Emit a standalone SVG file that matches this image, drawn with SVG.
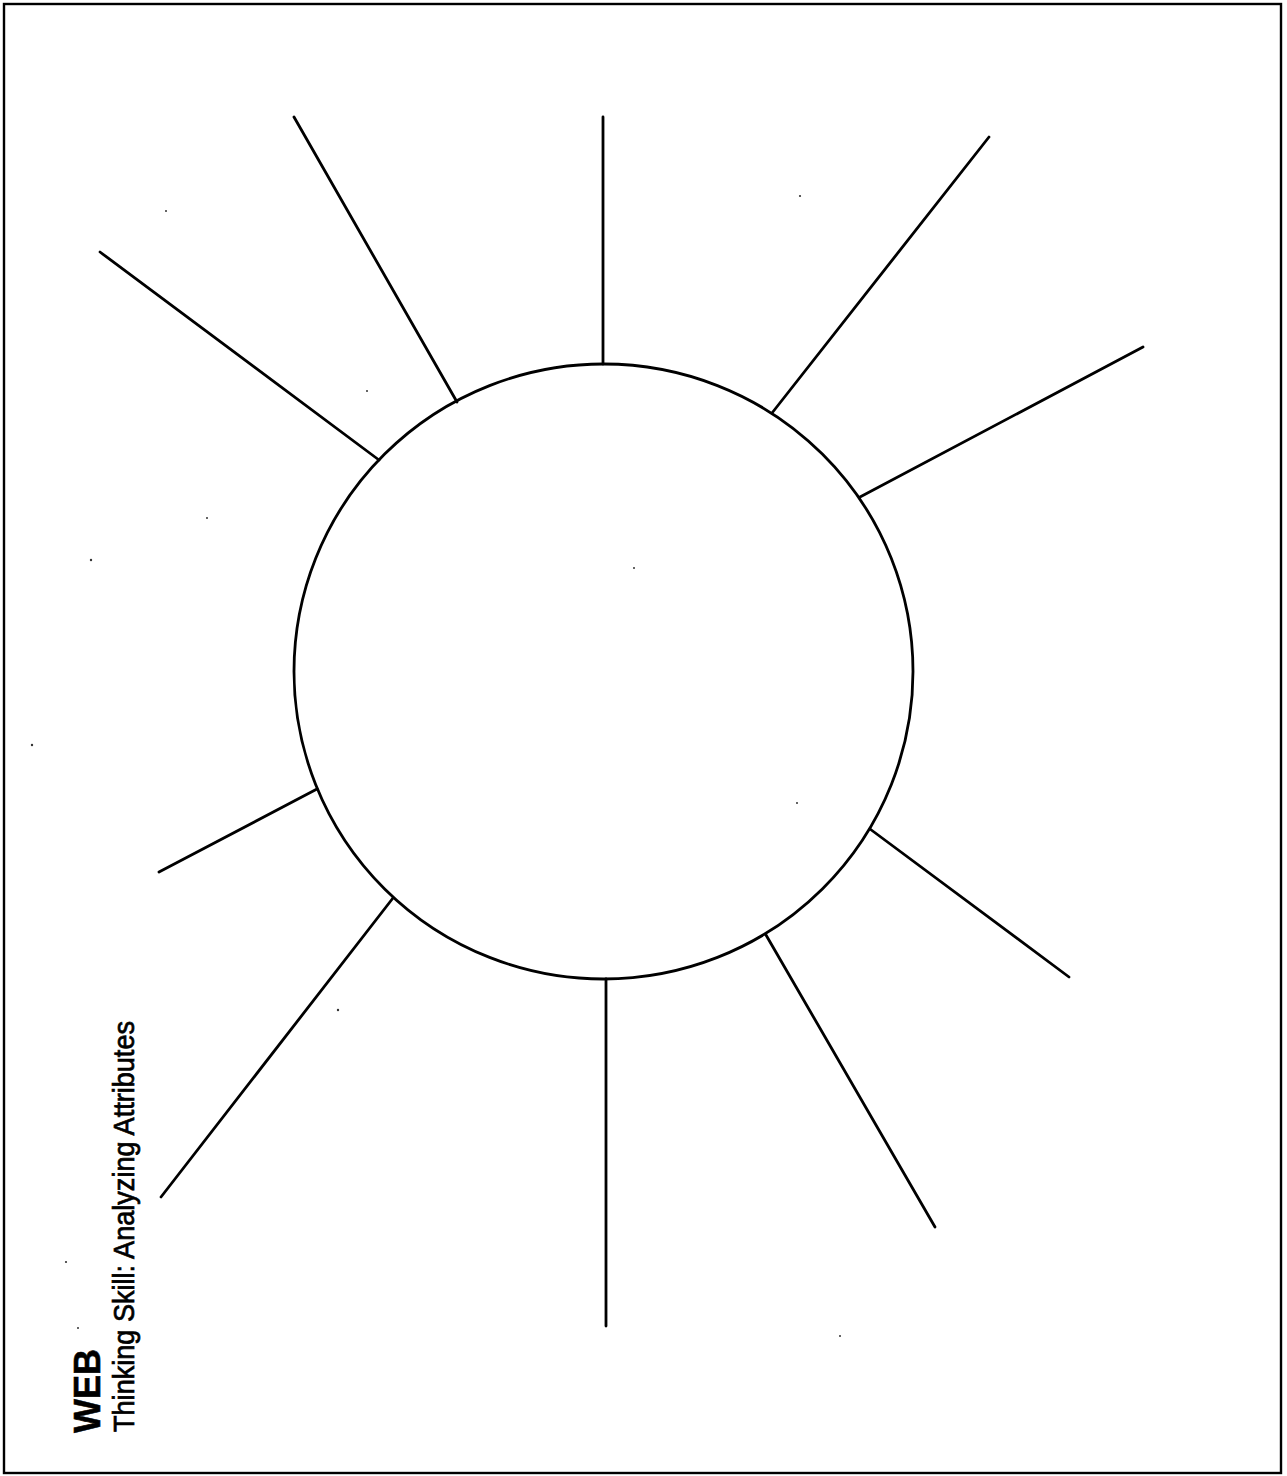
<svg xmlns="http://www.w3.org/2000/svg" width="1287" height="1476" viewBox="0 0 1287 1476">
<style>
.ln{stroke:#000;stroke-width:2.8;stroke-linecap:round;fill:none}
.dot{fill:#333}
.t{font-family:"Liberation Sans",Arial,sans-serif;fill:#000}
</style>
<rect x="0" y="0" width="1287" height="1476" fill="#fff"/>
<rect id="border" x="4" y="4" width="1277" height="1469" fill="none" stroke="#000" stroke-width="2.4"/>
<g id="center">
<ellipse cx="603.5" cy="671.5" rx="309.5" ry="307.5" class="ln"/>
</g>
<g id="connectors">
<line class="ln" x1="603" y1="117" x2="603" y2="364"/>
<line class="ln" x1="294" y1="117" x2="457" y2="402"/>
<line class="ln" x1="100" y1="252" x2="379" y2="460"/>
<line class="ln" x1="989" y1="137" x2="772" y2="413"/>
<line class="ln" x1="1143" y1="347" x2="860" y2="497"/>
<line class="ln" x1="159" y1="872" x2="317" y2="789"/>
<line class="ln" x1="161" y1="1197" x2="393" y2="898"/>
<line class="ln" x1="606" y1="979" x2="606" y2="1326"/>
<line class="ln" x1="870" y1="829" x2="1069" y2="977"/>
<line class="ln" x1="766" y1="935" x2="935" y2="1227"/>
</g>
<g id="specks">
<circle class="dot" cx="166" cy="211" r="1"/>
<circle class="dot" cx="367" cy="391" r="1"/>
<circle class="dot" cx="207" cy="518" r="1"/>
<circle class="dot" cx="91" cy="560" r="1.2"/>
<circle class="dot" cx="634" cy="568" r="1"/>
<circle class="dot" cx="32" cy="745" r="1.2"/>
<circle class="dot" cx="800" cy="196" r="1.1"/>
<circle class="dot" cx="797" cy="803" r="1"/>
<circle class="dot" cx="338" cy="1010" r="1.2"/>
<circle class="dot" cx="66" cy="1262" r="1.1"/>
<circle class="dot" cx="78" cy="1328" r="1"/>
<circle class="dot" cx="840" cy="1336" r="1"/>
</g>
<g id="title">
<text class="t" transform="translate(100,1433) rotate(-90)" font-size="36" font-weight="bold" stroke="#000" stroke-width="0.6">WEB</text>
<text class="t" transform="translate(134,1432) rotate(-90)" font-size="29" textLength="411" lengthAdjust="spacingAndGlyphs" stroke="#000" stroke-width="0.7">Thinking Skill: Analyzing Attributes</text>
</g>
</svg>
